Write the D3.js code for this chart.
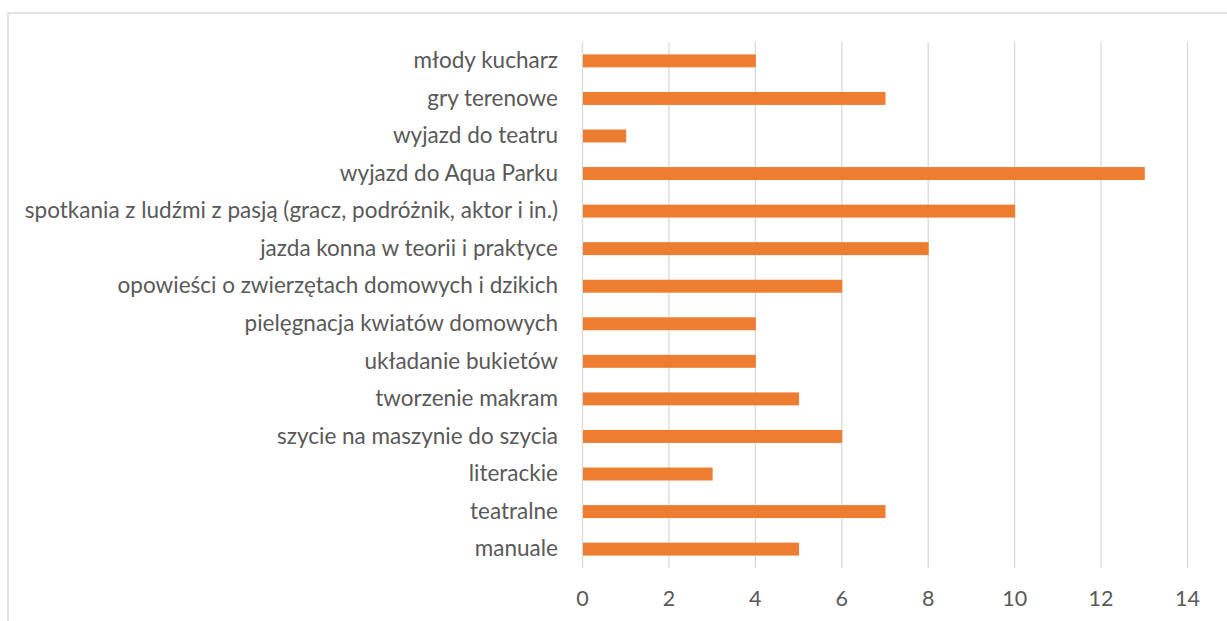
<!DOCTYPE html>
<html>
<head>
<meta charset="utf-8">
<script src="https://cdn.jsdelivr.net/npm/d3@7"></script>
<style>
  html, body { margin: 0; padding: 0; background: #fff; }
  svg { display: block; }
</style>
</head>
<body>
<div id="chart"></div>
<script>
// Horizontal bar chart — categories top to bottom
const categories = [
  'młody kucharz',
  'gry terenowe',
  'wyjazd do teatru',
  'wyjazd do Aqua Parku',
  'spotkania z ludźmi z pasją (gracz, podróżnik, aktor i in.)',
  'jazda konna w teorii i praktyce',
  'opowieści o zwierzętach domowych i dzikich',
  'pielęgnacja kwiatów domowych',
  'układanie bukietów',
  'tworzenie makram',
  'szycie na maszynie do szycia',
  'literackie',
  'teatralne',
  'manuale'
];
const values = [4, 7, 1, 13, 10, 8, 6, 4, 4, 5, 6, 3, 7, 5];
const xTicks = [0, 2, 4, 6, 8, 10, 12, 14];

const W = 1227, H = 621;
const m = { top: 42, right: 40, bottom: 53, left: 582 };
const iW = 1187 - m.left, iH = H - m.top - m.bottom;
const FONT = 'Lato, "Open Sans", sans-serif';

const svg = d3.select('#chart').append('svg').attr('width', W).attr('height', H);

// outer chart border (only left/top visible in the crop)
svg.append('rect')
  .attr('x', 8).attr('y', 13).attr('width', W + 10).attr('height', H + 10)
  .attr('fill', 'none').attr('stroke', '#d9d9d9').attr('stroke-width', 1.5);

const g = svg.append('g').attr('transform', `translate(${m.left},${m.top})`);

const x = d3.scaleLinear().domain([0, 14]).range([0, iW]);
const y = d3.scaleBand().domain(categories).range([0, iH]).paddingInner(0.655).paddingOuter(0.33);

// grid
g.append('g')
  .call(d3.axisBottom(x).tickValues(xTicks).tickSize(iH).tickFormat(''))
  .call(g => { g.select('.domain').remove(); g.selectAll('line').attr('stroke', '#d9d9d9').attr('stroke-width', 1.3); });

// x tick labels
g.append('g').attr('transform', `translate(0,${iH})`)
  .call(d3.axisBottom(x).tickValues(xTicks).tickSize(0).tickPadding(23))
  .call(g => {
    g.select('.domain').remove();
    g.selectAll('text').attr('font-size', 21.5).attr('font-family', FONT).attr('fill', '#595959');
  });

// y labels
g.append('g')
  .call(d3.axisLeft(y).tickSize(0).tickPadding(24))
  .call(g => {
    g.select('.domain').remove();
    g.selectAll('text').attr('font-size', 22.5).attr('font-family', FONT).attr('fill', '#595959');
  });

// bars
g.selectAll('.bar').data(values).enter().append('rect')
  .attr('x', x(0) + 1)
  .attr('y', (d, i) => y(categories[i]))
  .attr('width', d => x(d) - x(0))
  .attr('height', y.bandwidth())
  .attr('fill', '#ed7d31');
</script>
</body>
</html>
